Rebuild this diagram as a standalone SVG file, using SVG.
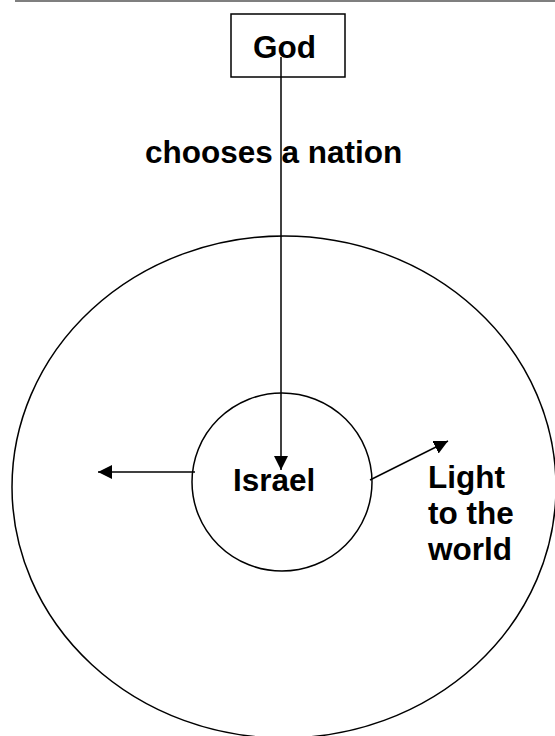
<svg xmlns="http://www.w3.org/2000/svg" width="555" height="736" viewBox="0 0 555 736">
<defs>
<style>
.t{font-family:"Liberation Sans",Arial,sans-serif;font-weight:bold;font-size:31.5px;fill:#000}
.s{fill:none;stroke:#000;stroke-width:1.5}
</style>
<marker id="ah" viewBox="0 0 10 10" refX="10" refY="5" markerWidth="10" markerHeight="10" markerUnits="userSpaceOnUse" orient="auto">
<path d="M0,0 L10,5 L0,10 Z" fill="#000"/>
</marker>
<marker id="ahb" viewBox="0 0 10 10" refX="10" refY="5" markerWidth="14" markerHeight="14" markerUnits="userSpaceOnUse" orient="auto">
<path d="M0,0 L10,5 L0,10 Z" fill="#000"/>
</marker>
</defs>
<rect width="555" height="736" fill="#fff"/>
<line x1="15" y1="1" x2="555" y2="1" stroke="#000" stroke-width="1.2"/>
<g id="world">
<ellipse class="s" cx="284" cy="487" rx="272" ry="251"/>
</g>
<g id="israel">
<ellipse class="s" cx="282" cy="482" rx="90" ry="89"/>
<text class="t" x="233" y="491">Israel</text>
</g>
<g id="god">
<rect class="s" x="231" y="14" width="114" height="63"/>
<text class="t" x="253" y="58">God</text>
</g>
<g id="connectors">
<line class="s" x1="281" y1="57" x2="281" y2="470" marker-end="url(#ahb)"/>
<line class="s" x1="195" y1="472" x2="98" y2="472" marker-end="url(#ahb)"/>
<line class="s" x1="370" y1="480" x2="448" y2="441" marker-end="url(#ahb)"/>
</g>
<g id="labels">
<text class="t" x="145" y="163">chooses a nation</text>
<text class="t" x="428" y="488">Light</text>
<text class="t" x="428" y="524">to the</text>
<text class="t" x="428" y="560">world</text>
</g>
</svg>
